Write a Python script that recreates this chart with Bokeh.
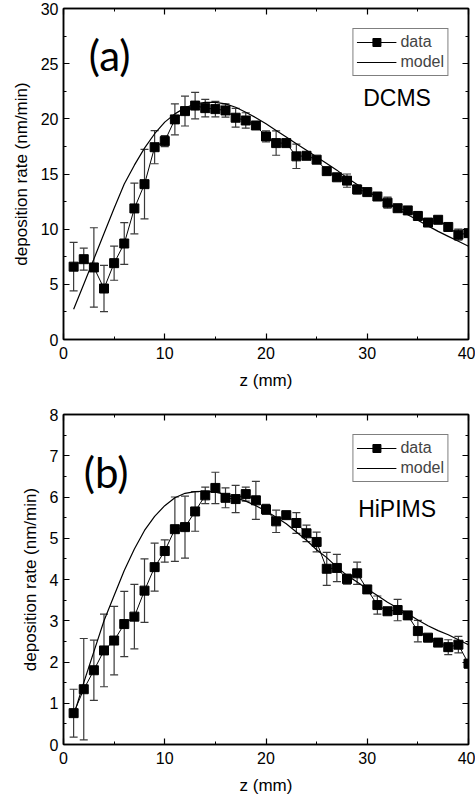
from bokeh.plotting import figure
from bokeh.models import (ColumnDataSource, Whisker, TeeHead, Legend, LegendItem,
                          LinearAxis, SingleIntervalTicker, Label, Range1d,
                          CustomLabelingPolicy)
from bokeh.layouts import column
from bokeh.embed import file_html
from bokeh.resources import INLINE

# ---------------- data ----------------
z = list(range(1, 41))

dcms_rate = [6.6, 7.28, 6.53, 4.62, 6.92, 8.7, 11.88, 14.08, 17.43, 17.98,
             19.95, 20.7, 21.2, 20.97, 20.88, 20.76, 20.1, 19.85, 19.4, 18.4,
             17.8, 17.8, 16.6, 16.65, 16.3, 15.26, 14.7, 14.4, 13.6, 13.36,
             12.96, 12.4, 11.9, 11.7, 11.2, 10.6, 10.85, 10.2, 9.5, 9.64]
dcms_err = [2.2, 1.0, 3.6, 2.1, 1.55, 1.9, 2.3, 3.15, 1.5, 0.5,
            1.4, 1.35, 1.2, 0.8, 0.7, 0.6, 0.85, 0.7, 0.25, 0.5,
            1.1, 0.2, 1.1, 0.2, 0.2, 0.2, 0.3, 0.6, 0.4, 0.2,
            0.2, 0.5, 0.2, 0.2, 0.4, 0.2, 0.3, 0.2, 0.5, 0.2]
dcms_model = [2.75, 5.0, 7.3, 9.6, 11.9, 14.1, 15.8, 17.35, 18.65, 19.7,
              20.45, 21.0, 21.35, 21.5, 21.5, 21.35, 21.05, 20.6, 20.1, 19.55,
              18.95, 18.35, 17.75, 17.15, 16.55, 15.95, 15.35, 14.65, 14.05, 13.45,
              12.9, 12.35, 11.8, 11.3, 10.8, 10.3, 9.8, 9.35, 8.9, 8.45]

hip_rate = [0.76, 1.34, 1.80, 2.28, 2.52, 2.92, 3.10, 3.73, 4.30, 4.69,
            5.22, 5.27, 5.65, 6.04, 6.22, 5.98, 5.95, 6.07, 5.92, 5.70,
            5.41, 5.56, 5.37, 5.12, 4.91, 4.26, 4.28, 4.01, 4.15, 3.76,
            3.38, 3.23, 3.26, 3.13, 2.75, 2.59, 2.47, 2.36, 2.42, 1.96]
hip_err = [0.58, 1.23, 0.73, 0.88, 0.83, 0.79, 0.78, 0.77, 0.58, 0.27,
           0.78, 0.75, 0.48, 0.2, 0.38, 0.24, 0.33, 0.17, 0.46, 0.12,
           0.27, 0.08, 0.25, 0.2, 0.24, 0.4, 0.33, 0.12, 0.27, 0.08,
           0.22, 0.06, 0.26, 0.08, 0.26, 0.08, 0.08, 0.18, 0.2, 0.1]
hip_model = [0.7, 1.5, 2.25, 3.0, 3.61, 4.22, 4.74, 5.19, 5.53, 5.79,
             5.98, 6.09, 6.13, 6.14, 6.12, 6.06, 5.98, 5.9, 5.79, 5.66,
             5.51, 5.35, 5.15, 4.95, 4.72, 4.53, 4.30, 4.10, 3.94, 3.77,
             3.61, 3.45, 3.31, 3.17, 3.02, 2.88, 2.76, 2.66, 2.54, 2.42]

x_label = "z (mm)"
y_label = "deposition rate (nm/min)"

FONT = "Liberation Sans"


def make_panel(rate, err, model, ymax, yint, tag, tag_xy, name, name_xy,
               width, height, mb_left, mb_right, mb_top, mb_bottom):
    p = figure(width=width, height=height, output_backend="svg", toolbar_location=None,
               x_range=Range1d(0, 40), y_range=Range1d(0, ymax),
               min_border_left=mb_left, min_border_right=mb_right,
               min_border_top=mb_top, min_border_bottom=mb_bottom)
    p.grid.visible = False
    p.outline_line_color = "black"
    p.outline_line_width = 1.5
    p.background_fill_color = "white"
    p.border_fill_color = "white"

    xt = SingleIntervalTicker(interval=10, num_minor_ticks=2)
    yt = SingleIntervalTicker(interval=yint, num_minor_ticks=2)
    p.xaxis.ticker = xt
    p.yaxis.ticker = yt

    for ax in (p.xaxis[0], p.yaxis[0]):
        ax.major_tick_in = 6
        ax.major_tick_out = 0
        ax.minor_tick_in = 3
        ax.minor_tick_out = 0
        ax.axis_line_width = 1.5
        ax.major_tick_line_width = 1.2
        ax.major_label_text_font = FONT
        ax.major_label_text_font_size = "16px"
        ax.major_label_text_color = "black"
        ax.axis_label_text_font = FONT
        ax.axis_label_text_font_size = "17px"
        ax.axis_label_text_font_style = "normal"
        ax.axis_label_text_color = "black"
    p.xaxis.axis_label = x_label
    p.yaxis.axis_label = y_label
    p.xaxis.major_label_standoff = 7
    p.xaxis.axis_label_standoff = 9
    p.yaxis.major_label_standoff = 5
    p.yaxis.axis_label_standoff = 7

    # mirror axes (ticks only, no labels drawn)
    for loc, tk in (("above", xt), ("right", yt)):
        a = LinearAxis(ticker=tk, major_label_text_font_size="1px",
                       major_label_policy=CustomLabelingPolicy(code="return []"),
                       major_label_standoff=0, major_tick_in=6, major_tick_out=0,
                       minor_tick_in=3, minor_tick_out=0, axis_line_width=1.5,
                       major_tick_line_width=1.2)
        p.add_layout(a, loc)

    lo = [r - e for r, e in zip(rate, err)]
    up = [r + e for r, e in zip(rate, err)]
    src = ColumnDataSource(dict(z=z, rate=rate, lo=lo, up=up, model=model))

    wk = Whisker(base="z", upper="up", lower="lo", source=src,
                 line_color="#3a3a3a", line_width=1.2,
                 upper_head=TeeHead(size=8, line_color="#3a3a3a", line_width=1.2),
                 lower_head=TeeHead(size=8, line_color="#3a3a3a", line_width=1.2))
    p.add_layout(wk)

    r_model = p.line("z", "model", source=src, line_color="black", line_width=1.2)
    r_dline = p.line("z", "rate", source=src, line_color="black", line_width=1)
    r_dpts = p.scatter("z", "rate", source=src, marker="square", size=9,
                       fill_color="black", line_color="black")

    leg = Legend(items=[LegendItem(label="data", renderers=[r_dline, r_dpts]),
                        LegendItem(label="model", renderers=[r_model])],
                 location="top_right", margin=20, padding=3, spacing=0,
                 glyph_width=40, glyph_height=20, label_height=20,
                 label_standoff=4, label_text_font=FONT, label_text_font_size="16px",
                 border_line_color="black", border_line_width=1,
                 background_fill_alpha=1.0)
    p.add_layout(leg)

    p.add_layout(Label(x=tag_xy[0], y=tag_xy[1], text=tag, text_font="Lato",
                       text_font_size="42px", text_baseline="middle", text_color="black"))
    p.add_layout(Label(x=name_xy[0], y=name_xy[1], text=name, text_font=FONT,
                       text_font_size="23px", text_baseline="middle", text_color="black"))
    return p


p1 = make_panel(dcms_rate, dcms_err, dcms_model, 30, 5, "(a)", (2.5, 25.8),
                "DCMS", (29.6, 21.9), 475, 400, 58, 7, 8, 61)
p2 = make_panel(hip_rate, hip_err, hip_model, 8, 1, "(b)", (2.0, 6.6),
                "HiPIMS", (29.1, 5.72), 475, 402, 63, 2, 14, 58)

layout = column(p1, p2, spacing=0)
open("out.html", "w").write(file_html(layout, INLINE))
